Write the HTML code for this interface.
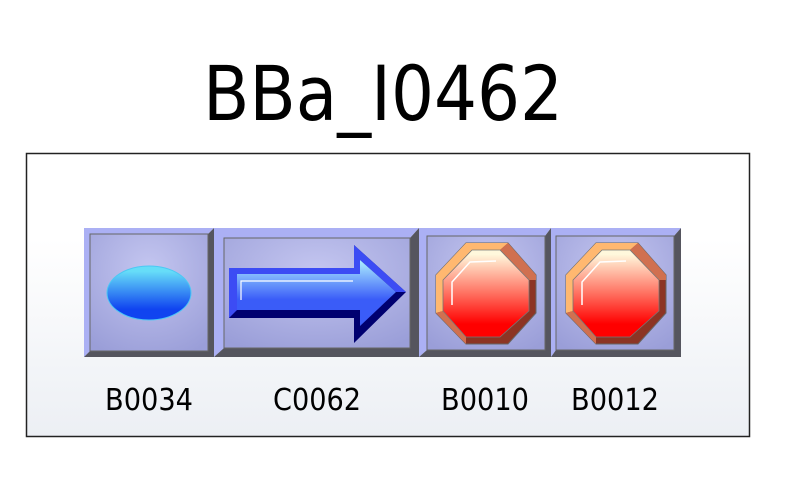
<!DOCTYPE html>
<html><head><meta charset="utf-8"><style>html,body{margin:0;padding:0;background:#fff}svg{display:block}</style></head>
<body>
<svg width="800" height="491" viewBox="0 0 800 491" xmlns="http://www.w3.org/2000/svg">
<defs>
<linearGradient id="bg" x1="0" y1="0" x2="0" y2="1"><stop offset="0.3" stop-color="#ffffff"/><stop offset="1" stop-color="#eceff4"/></linearGradient>
<radialGradient id="face" cx="0.5" cy="0.3" r="0.8"><stop offset="0" stop-color="#c4c6f0"/><stop offset="1" stop-color="#9a9ed8"/></radialGradient>
<linearGradient id="ell" x1="0" y1="0" x2="0" y2="1"><stop offset="0.1" stop-color="#66ddf8"/><stop offset="0.8" stop-color="#1044f0"/></linearGradient>
<linearGradient id="arr" x1="0" y1="0" x2="0" y2="1"><stop offset="0" stop-color="#aef0ff"/><stop offset="0.6" stop-color="#3a5cf8"/></linearGradient>
<linearGradient id="oct" x1="0" y1="0" x2="0" y2="1"><stop offset="0.05" stop-color="#fff8dc"/><stop offset="0.5" stop-color="#ff7060"/><stop offset="0.85" stop-color="#ff0000"/></linearGradient>
</defs>
<text x="383" y="120" font-family="DejaVu Sans Condensed, Liberation Sans, sans-serif" font-size="76" text-anchor="middle" textLength="360" lengthAdjust="spacingAndGlyphs">BBa_I0462</text>
<rect x="26.5" y="153.5" width="723" height="283" fill="url(#bg)" stroke="#222" stroke-width="1.5"/>
<!-- box 1 -->
<g stroke="#666" stroke-width="1">
<polygon points="84,228 214,228 208,234 90,234 90,351 84,357" fill="#abb0f4" stroke="none"/>
<polygon points="214,228 214,357 84,357 90,351 208,351 208,234" fill="#55555e" stroke="none"/>
<rect x="90" y="234" width="118" height="117" fill="url(#face)"/>
<polygon points="214,228 419,228 410,238 224,238 224,348 214,357" fill="#abb0f4" stroke="none"/>
<polygon points="419,228 419,357 214,357 224,348 410,348 410,238" fill="#55555e" stroke="none"/>
<rect x="224" y="238" width="186" height="110" fill="url(#face)"/>
<polygon points="419,228 551,228 545,236 427,236 427,350 419,357" fill="#abb0f4" stroke="none"/>
<polygon points="551,228 551,357 419,357 427,350 545,350 545,236" fill="#55555e" stroke="none"/>
<rect x="427" y="236" width="118" height="114" fill="url(#face)"/>
<polygon points="551,228 681,228 674,236 556,236 556,350 551,357" fill="#abb0f4" stroke="none"/>
<polygon points="681,228 681,357 551,357 556,350 674,350 674,236" fill="#55555e" stroke="none"/>
<rect x="556" y="236" width="118" height="114" fill="url(#face)"/>
</g>
<ellipse cx="149" cy="293" rx="42" ry="27" fill="url(#ell)" stroke="#4cc8f4" stroke-width="1"/>
<!-- arrow -->
<polygon points="229,268 354,268 354,245 406,292 354,343 354,318 229,318" fill="#000070"/>
<polygon points="229,268 354,268 354,245 406,292 396,292 360,260 360,274 237,274 237,310 229,318" fill="#3c4cf4"/>
<polygon points="237,274 360,274 360,260 396,292 360,326 360,310 237,310" fill="url(#arr)"/>
<polyline points="241,300 241,281 353,281" fill="none" stroke="#fff" stroke-width="1.2"/>
<!-- octagons -->
<g id="o1">
<polygon points="466,243 508,243 536,275 536,313 508,344 466,344 436,313 436,275" fill="#8c3424" stroke="#666"/>
<polygon points="466,243 508,243 500,250 472,250 443,280 443,311 436,313 436,275" fill="#ffb870"/>
<polygon points="508,243 536,275 536,280 529,280 500,250" fill="#d07050"/>
<polygon points="436,313 466,344 466,337 443,311" fill="#d07050"/>
<polygon points="472,250 500,250 529,280 529,311 500,337 466,337 443,311 443,280" fill="url(#oct)" stroke="#777" stroke-width="0.8"/>
<path d="M452,305 L452,282 L470,262 L496,261" fill="none" stroke="#fff" stroke-width="1.5"/>
</g>
<use href="#o1" transform="translate(130,0)"/>
<g font-family="DejaVu Sans Condensed, Liberation Sans, sans-serif" font-size="30" text-anchor="middle">
<text x="149" y="410" textLength="88" lengthAdjust="spacingAndGlyphs">B0034</text>
<text x="317" y="410" textLength="88" lengthAdjust="spacingAndGlyphs">C0062</text>
<text x="485" y="410" textLength="88" lengthAdjust="spacingAndGlyphs">B0010</text>
<text x="615" y="410" textLength="88" lengthAdjust="spacingAndGlyphs">B0012</text>
</g>
</svg>
</body></html>
